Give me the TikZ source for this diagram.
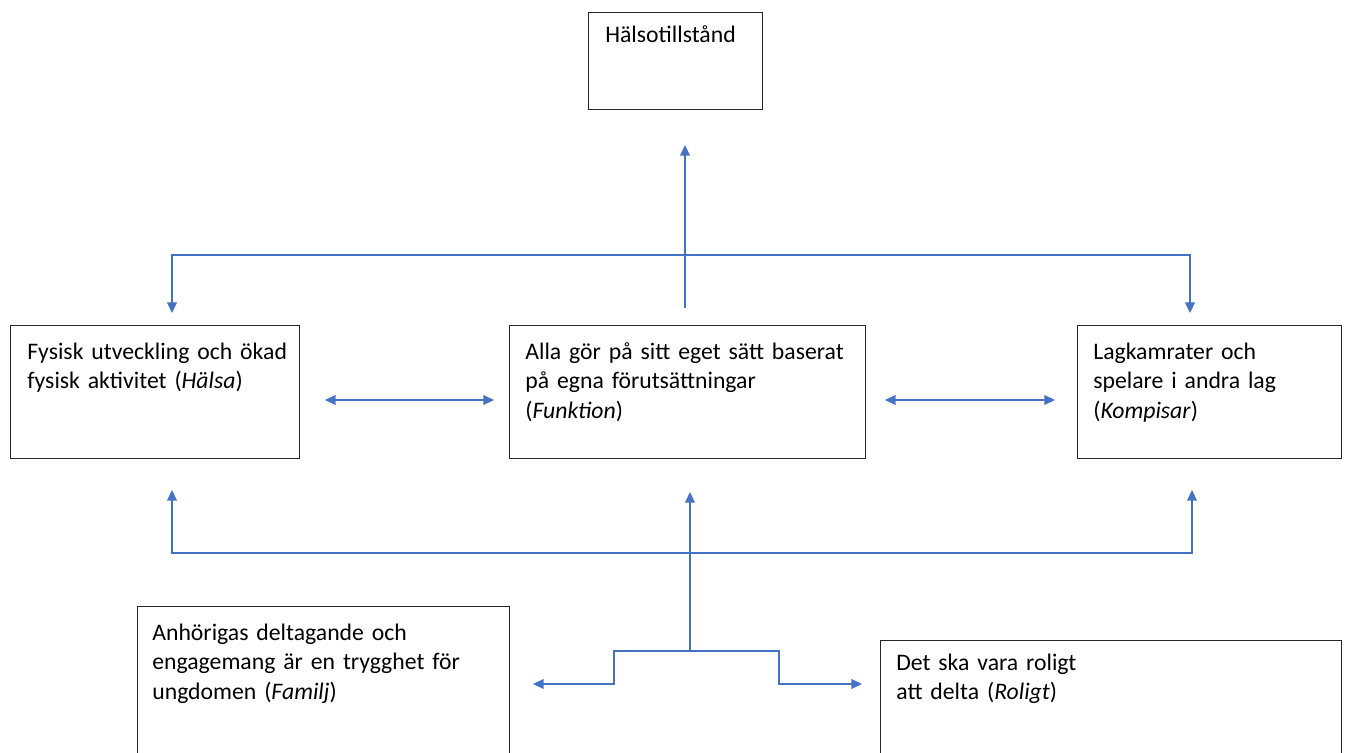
\documentclass[tikz,border=0pt]{standalone}
\usepackage{fontspec}
\setmainfont{Carlito}
\usetikzlibrary{arrows.meta}
\definecolor{linkblue}{HTML}{4472C4}
\definecolor{boxline}{HTML}{262626}
\newcommand\boxfont{\fontsize{13.5}{17}\selectfont\spaceskip=0.14em plus 0.05em\relax}
\begin{document}
\begin{tikzpicture}[x=0.02cm,y=-0.02cm,
  box/.style={draw=boxline,line width=0.8pt,anchor=north west,inner sep=0pt},
  txt/.style={anchor=base west,align=left,inner sep=0pt,text width=7.5cm,
    font=\boxfont},
  link/.style={draw=linkblue,line width=0.9pt},
  >={Triangle[length=6pt,width=5.5pt]}]
\clip (0,0) rectangle (1346,753);
% boxes
\node[box,minimum width=3.48cm,minimum height=1.94cm] (health) at (588,12) {};
\node[box,minimum width=5.78cm,minimum height=2.66cm] (body) at (10,325) {};
\node[box,minimum width=7.12cm,minimum height=2.66cm] (funk) at (509,325) {};
\node[box,minimum width=5.28cm,minimum height=2.66cm] (mates) at (1077,325) {};
\node[box,minimum width=7.44cm,minimum height=3.4cm] (family) at (137,606) {};
\node[box,minimum width=9.22cm,minimum height=3.0cm] (fun) at (880,640) {};
% texts
\node[txt] (health-t) at (605,43) {Hälsotillstånd};
\node[txt] (body-t) at (27,359) {Fysisk utveckling och ökad\\fysisk aktivitet (\textit{Hälsa})};
\node[txt] (funk-t) at (525,359) {Alla gör på sitt eget sätt baserat\\på egna förutsättningar\\(\textit{Funktion})};
\node[txt] (mates-t) at (1093,359) {Lagkamrater och\\spelare i andra lag\\(\textit{Kompisar})};
\node[txt] (family-t) at (152,640) {Anhörigas deltagande och\\engagemang är en trygghet för\\ungdomen (\textit{Familj})};
\node[txt] (fun-t) at (896,670) {Det ska vara roligt\\att delta (\textit{Roligt})};
% upper connectors
\coordinate (upfoot) at (685,308);
\coordinate (uptip) at (685,145);
\coordinate (topL) at (172,255);
\coordinate (topR) at (1190,255);
\coordinate (downL) at (172,313);
\coordinate (downR) at (1190,313);
\draw[link,->] (upfoot) -- (uptip);
\draw[link,<->] (downL) -- (topL) -- (topR) -- (downR);
% side arrows
\coordinate (b1) at (325,400);
\coordinate (f1) at (494,400);
\coordinate (f2) at (885,400);
\coordinate (m1) at (1055,400);
\draw[link,<->] (b1) -- (f1);
\draw[link,<->] (f2) -- (m1);
% lower connectors
\coordinate (lowL) at (172,553);
\coordinate (lowR) at (1192,553);
\coordinate (tipL) at (172,490);
\coordinate (tipR) at (1192,490);
\coordinate (stem) at (690,651);
\coordinate (stemtip) at (690,492);
\draw[link,<->] (tipL) -- (lowL) -- (lowR) -- (tipR);
\draw[link,->] (stem) -- (stemtip);
\coordinate (famtip) at (533,684);
\coordinate (stepL) at (614,684);
\coordinate (stepLt) at (614,651);
\coordinate (stepRt) at (779,651);
\coordinate (stepR) at (779,684);
\coordinate (funtip) at (862,684);
\draw[link,<->] (famtip) -- (stepL) -- (stepLt) -- (stepRt) -- (stepR) -- (funtip);
\end{tikzpicture}
\end{document}
